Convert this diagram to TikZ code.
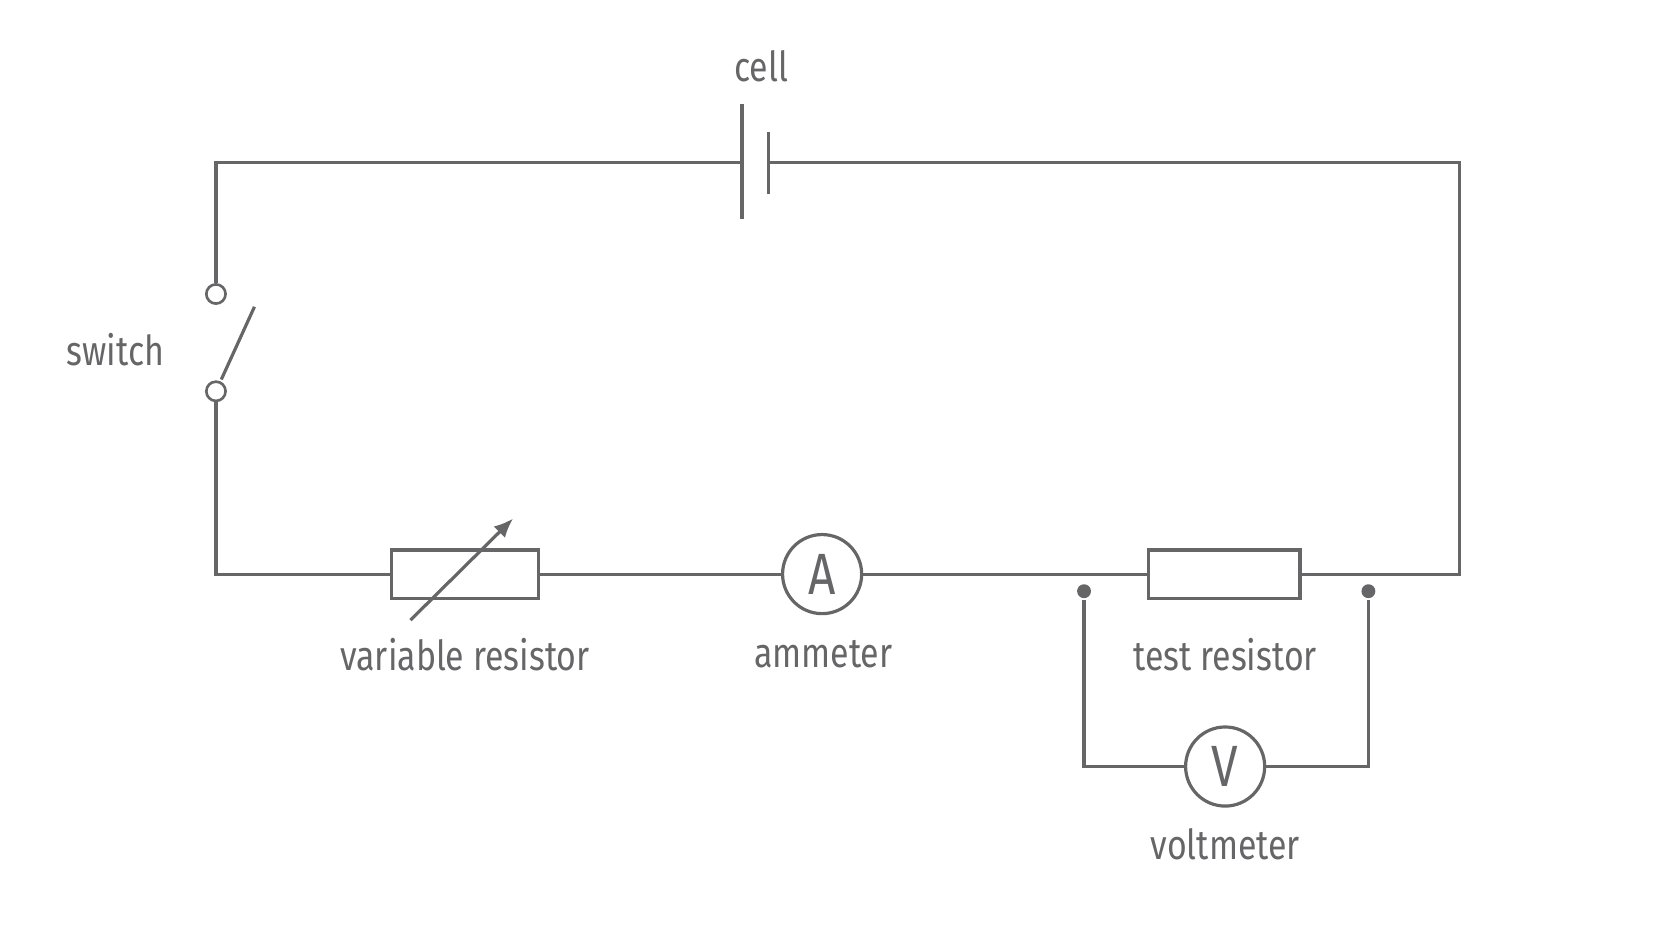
\documentclass[tikz,border=0pt]{standalone}
\usepackage{fontspec}
\usetikzlibrary{arrows.meta}
\setmainfont{Fira Sans}[FakeStretch=0.82]
\definecolor{wire}{HTML}{666668}
\begin{document}
\begin{tikzpicture}[x=0.02cm, y=-0.02cm, line width=1.7pt, draw=wire,
	lbl/.style = {text=wire, font=\fontsize{22}{24}\selectfont},
	meter/.style = {circle, draw=wire, line width=1.7pt, minimum size=1.48cm, inner sep=0pt, text=wire, font=\fontsize{31}{31}\selectfont},
	box/.style = {rectangle, draw=wire, line width=1.7pt, minimum height=0.9cm, inner sep=0pt},
	term/.style = {circle, draw=wire, fill=white, line width=1.4pt, minimum size=0.36cm, inner sep=0pt},
	probe/.style = {circle, fill=wire, minimum size=0.26cm, inner sep=0pt}]
	\useasboundingbox (0, 0) rectangle (1564, 880);
%%%%%%%%%%% corners and terminals
	\coordinate (tl) at (202, 152);
	\coordinate (tr) at (1365, 152);
	\coordinate (bl) at (202, 537);
	\coordinate (br) at (1365, 537);
	\coordinate (cellL) at (694, 152);
	\coordinate (cellR) at (719, 152);
	\node[term] (swA) at (202, 275) {};
	\node[term] (swB) at (202, 366) {};
	\node[box, minimum width=2.76cm] (vr) at (435, 537) {};
	\node[meter] (amm) at (769, 537) {A};
	\node[box, minimum width=2.84cm] (tr1) at (1145, 537) {};
	\node[probe] (pL) at (1014, 553) {};
	\node[probe] (pR) at (1280, 553) {};
	\node[meter] (volt) at (1146, 717) {V};
	\coordinate (vL) at (1014, 717);
	\coordinate (vR) at (1280, 717);
%%%%%%%%%%% wires
	\draw (cellL) -- (tl) -- (swA);
	\draw (swB) -- (bl) -- (vr);
	\draw (vr) -- (amm) -- (tr1) -- (br) -- (tr) -- (cellR);
	\draw (pL) -- (vL) -- (volt) -- (vR) -- (pR);
%%%%%%%%%%% cell, switch blade, variable arrow
	\draw (694, 97) -- (694, 205);
	\draw (719, 123) -- (719, 181);
	\draw (207, 355) -- (238, 287);
	\draw[-{Latex[length=0.36cm, width=0.3cm]}] (384, 580) -- (480, 485);
%%%%%%%%%%% labels
	\node[lbl] (cellLbl) at (712, 62) {cell};
	\node[lbl] (swLbl) at (108, 327) {switch};
	\node[lbl] (vrLbl) at (435, 612) {variable resistor};
	\node[lbl] (ammLbl) at (770, 612) {ammeter};
	\node[lbl] (trLbl) at (1146, 612) {test resistor};
	\node[lbl] (voltLbl) at (1146, 790) {voltmeter};
\end{tikzpicture}
\end{document}
